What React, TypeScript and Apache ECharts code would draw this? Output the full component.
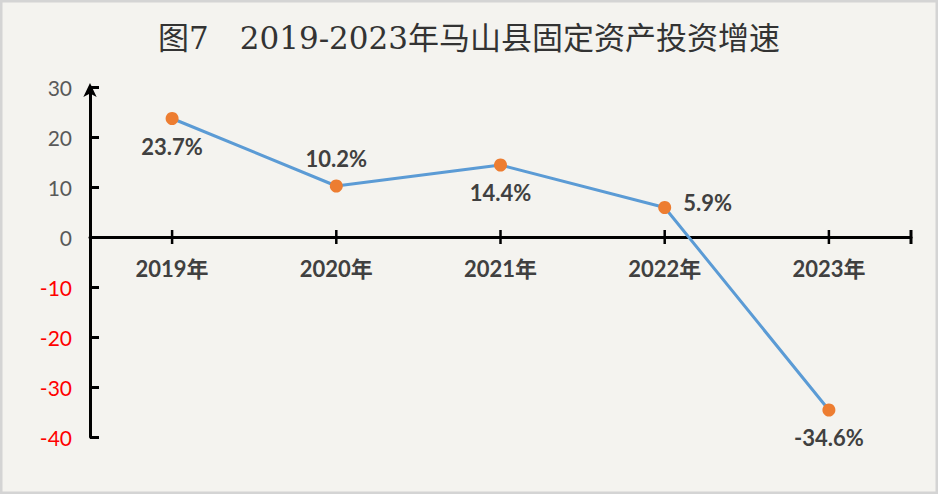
import React, { useEffect, useRef } from "react";
import * as echarts from "echarts";

const categories = ["2019年", "2020年", "2021年", "2022年", "2023年"];
const growth = [23.7, 10.2, 14.4, 5.9, -34.6];
const labelPositions = ["bottom", "top", "bottom", "right", "bottom"];
const titleText = "图7　2019-2023年马山县固定资产投资增速";

export default function App() {
  const ref = useRef<HTMLDivElement>(null);
  useEffect(() => {
    document.body.style.margin = "0";
    const chart = echarts.init(ref.current!, null, { renderer: "svg" });
    const numFont = "Lato, 'Noto Sans CJK SC', sans-serif";
    chart.setOption({
      animation: false,
      backgroundColor: "#f4f3ef",
      title: {
        text: titleText,
        left: "center",
        top: 17,
        textStyle: {
          fontFamily: "'DejaVu Serif', 'Noto Sans CJK SC', serif",
          fontWeight: "normal",
          fontSize: 31,
          color: "#333333",
        },
      },
      grid: { left: 90, right: 27, top: 87, bottom: 57 },
      xAxis: {
        type: "category",
        data: categories,
        axisLine: { onZero: false, lineStyle: { color: "#000", width: 3 } },
        axisTick: { alignWithLabel: true, length: 7, lineStyle: { color: "#000", width: 2.5 } },
        axisLabel: {
          margin: 20,
          fontFamily: numFont,
          fontWeight: "bold",
          fontSize: 22,
          color: "#404040",
        },
      },
      yAxis: {
        type: "value",
        min: -40,
        max: 30,
        interval: 10,
        splitLine: { show: false },
        axisLine: {
          show: true,
          symbol: ["none", "arrow"],
          symbolSize: [10, 14],
          symbolOffset: [0, 4],
          lineStyle: { color: "#000", width: 3 },
        },
        axisTick: { show: true, inside: true, length: 9, lineStyle: { color: "#000", width: 3 } },
        axisLabel: {
          margin: 18,
          fontFamily: numFont,
          fontSize: 21,
          color: (v: any) => (Number(v) < 0 ? "#FF0000" : "#595959"),
        },
      },
      series: [
        {
          type: "line",
          data: growth.map((v, i) => ({
            value: v,
            label: {
              position: labelPositions[i],
              distance: labelPositions[i] === "right" ? 12 : 10,
              offset: labelPositions[i] === "right" ? [0, -5] : [0, 0],
            },
          })),
          symbol: "circle",
          symbolSize: 13,
          itemStyle: { color: "#ED7D31" },
          lineStyle: { color: "#5B9BD5", width: 3 },
          z: 5,
          label: {
            show: true,
            formatter: (p: any) => p.value + "%",
            fontFamily: numFont,
            fontWeight: "bold",
            fontSize: 22,
            color: "#404040",
          },
        },
      ],
    });
    // move the x axis up to the zero line, then draw crossing ticks placed through the axes
    const y0 = chart.convertToPixel({ yAxisIndex: 0 }, 0) as number;
    const gridModel: any = (chart as any).getModel().getComponent("grid", 0);
    const rect = gridModel.coordinateSystem.getRect();
    const xEnd = rect.x + rect.width;
    const yBottom = rect.y + rect.height;
    const tickLines: any[] = categories.map((c) => {
      const x = chart.convertToPixel({ xAxisIndex: 0 }, c) as number;
      return {
        type: "line",
        z: 1,
        shape: { x1: x, y1: y0 - 7, x2: x, y2: y0 + 7 },
        style: { stroke: "#000", lineWidth: 2.5 },
        silent: true,
      };
    });
    chart.setOption({
      xAxis: { offset: -(yBottom - y0) },
      graphic: [
        ...tickLines,
        {
          type: "line",
          z: 1,
          shape: { x1: xEnd, y1: y0 - 7, x2: xEnd, y2: y0 + 7 },
          style: { stroke: "#000", lineWidth: 3 },
          silent: true,
        },
        {
          type: "rect",
          shape: { x: 1, y: 1, width: 936, height: 492 },
          style: { fill: "none", stroke: "#d4d4d4", lineWidth: 3 },
          silent: true,
        },
      ],
    });
    return () => chart.dispose();
  }, []);
  return <div ref={ref} style={{ width: 938, height: 494 }} />;
}
